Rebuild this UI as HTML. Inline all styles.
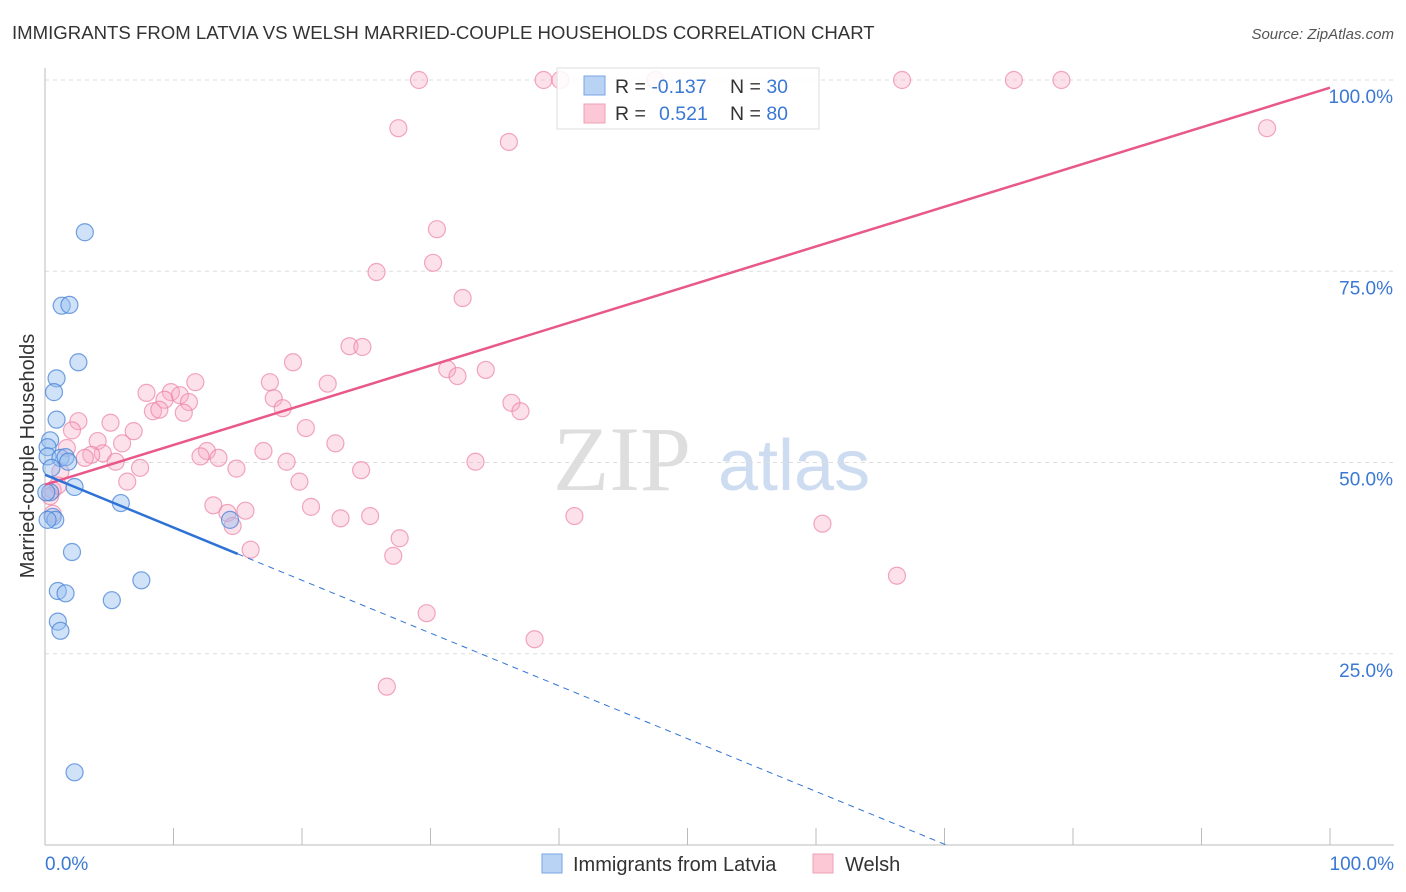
<!DOCTYPE html>
<html><head><meta charset="utf-8"><style>
body{margin:0;background:#fff;font-family:"Liberation Sans",sans-serif;}
</style></head><body>
<svg id="chart" width="1406" height="892" xmlns="http://www.w3.org/2000/svg" style="display:block">
<text x="12" y="39" font-size="18.6" fill="#333">IMMIGRANTS FROM LATVIA VS WELSH MARRIED-COUPLE HOUSEHOLDS CORRELATION CHART</text>
<text x="1394" y="39" font-size="15" fill="#555" font-style="italic" text-anchor="end">Source: ZipAtlas.com</text>
<g>
<text x="553" y="490" font-size="92" fill="#dedede" font-family="Liberation Serif,serif">ZIP</text>
<text x="718" y="490" font-size="72" fill="#cddcf0">atlas</text>
</g>
<g id="grid"></g>
<g id="axes"></g>
<g id="pts"></g>
<g id="lines"></g>
<text transform="translate(34,456) rotate(-90)" font-size="20" fill="#333" text-anchor="middle">Married-couple Households</text>
<text x="45" y="870" font-size="19" fill="#3a78d4">0.0%</text>
<text x="1394" y="870" font-size="19" fill="#3a78d4" text-anchor="end">100.0%</text>
<g>
<rect x="557" y="68" width="262" height="61" fill="rgba(255,255,255,0.85)" stroke="#ddd"/>
<rect x="584" y="76" width="21" height="19" fill="#b9d3f5" stroke="#7aa6e4"/>
<rect x="584" y="104" width="21" height="19" fill="#fcc8d6" stroke="#eea0b6"/>
<text x="615" y="93" font-size="19.5" fill="#333">R = <tspan fill="#3a78d4">-0.137</tspan><tspan x="730">N = </tspan><tspan fill="#3a78d4">30</tspan></text>
<text x="615" y="120" font-size="19.5" fill="#333">R = <tspan x="659" fill="#3a78d4">0.521</tspan><tspan x="730">N = </tspan><tspan fill="#3a78d4">80</tspan></text>
</g>
<g>
<rect x="542" y="854" width="20" height="19" fill="#b9d3f5" stroke="#7aa6e4"/>
<text x="573" y="871" font-size="20" fill="#333">Immigrants from Latvia</text>
<rect x="813" y="854" width="20" height="19" fill="#fcc8d6" stroke="#eea0b6"/>
<text x="845" y="871" font-size="20" fill="#333">Welsh</text>
</g>
</svg>
<script>
const yTicks=[25,50,75,100];
const yTickLabels=["25.0%","50.0%","75.0%","100.0%"];
const xTicks=[0,10,20,30,40,50,60,70,80,90,100];
const latviaX=[3.1,1.3,1.9,2.6,0.9,0.7,0.9,0.4,0.2,0.2,1.2,1.6,1.8,0.5,2.3,0.4,0.6,0.8,0.2,5.9,14.4,2.1,1.0,1.6,7.5,5.2,1.0,1.2,2.3,0.1];
const latviaY=[80.1,70.5,70.6,63.1,61.0,59.2,55.6,52.9,52.0,50.8,50.6,50.7,50.1,49.3,46.8,46.1,42.9,42.5,42.5,44.7,42.5,38.3,33.2,32.9,34.6,32.0,29.2,28.0,9.5,46.1];
const welshX=[29.1,38.8,40.1,47.5,66.7,75.4,79.1,95.1,27.5,36.1,30.5,30.2,25.8,32.5,23.7,24.7,19.3,31.3,34.3,32.1,11.7,17.5,22.0,7.9,9.8,10.5,9.3,11.2,17.8,36.3,18.5,8.4,8.9,10.8,37.0,2.6,5.1,20.3,2.1,6.9,4.1,6.0,22.6,1.7,12.6,17.0,4.5,3.6,3.1,12.1,13.5,5.5,18.8,33.5,7.4,14.9,24.6,1.2,6.4,19.8,0.6,0.4,13.1,20.7,15.6,23.0,25.3,14.2,14.6,41.2,60.5,27.6,16.0,27.1,66.3,29.7,38.1,26.6,0.6,1.0];
const welshY=[100,100,100,100,100,100,100,93.7,93.7,91.9,80.5,76.1,74.9,71.5,65.2,65.1,63.1,62.2,62.1,61.3,60.5,60.5,60.3,59.1,59.2,58.8,58.2,57.9,58.4,57.8,57.1,56.7,56.9,56.5,56.7,55.4,55.2,54.5,54.2,54.1,52.8,52.5,52.5,51.9,51.5,51.5,51.2,51.0,50.6,50.8,50.6,50.1,50.1,50.1,49.3,49.2,49.0,48.8,47.5,47.5,46.4,45.6,44.4,44.2,43.7,42.7,43.0,43.4,41.7,43.0,42.0,40.1,38.6,37.8,35.2,30.3,26.9,20.7,43.3,47.0];
const welshFit=[47.1,99.0];
const latviaFit=[48.4,-0.69];
const latviaSolidEnd=[15.0];
const NS="http://www.w3.org/2000/svg";
const X=v=>45+v*12.85, Y=v=>845-v*7.65;
function mk(t,a,p){const e=document.createElementNS(NS,t);for(const k in a)e.setAttribute(k,a[k]);p.appendChild(e);return e;}
const grid=document.getElementById('grid'),axes=document.getElementById('axes'),pts=document.getElementById('pts'),lines=document.getElementById('lines');
yTicks.forEach((t,i)=>{
  const l=mk('line',{x1:45,x2:1394,y1:Y(t),y2:Y(t),stroke:'#ddd','stroke-dasharray':'4,4'},grid);
  
  
  const tx=mk('text',{x:1393,y:Y(t)+23,'font-size':19,fill:'#3a78d4','text-anchor':'end'},axes);
  tx.textContent=yTickLabels[i];
  
  
});
const ax=mk('line',{x1:45,x2:45,y1:68,y2:845,stroke:'#bbb'},axes);


const bx=mk('line',{x1:45,x2:1394,y1:845,y2:845,stroke:'#bbb'},axes);


xTicks.forEach(t=>{
  const l=mk('line',{x1:X(t),x2:X(t),y1:828,y2:845,stroke:'#bbb'},axes);
  
  
});
welshX.forEach((v,i)=>{
  const c=mk('circle',{cx:X(v),cy:Y(welshY[i]),r:8.5,fill:'rgba(248,170,195,0.35)',stroke:'rgba(235,130,165,0.7)','stroke-width':1.2},pts);
  
  
});
latviaX.forEach((v,i)=>{
  const c=mk('circle',{cx:X(v),cy:Y(latviaY[i]),r:8.5,fill:'rgba(150,190,240,0.45)',stroke:'rgba(70,130,215,0.75)','stroke-width':1.2},pts);
  
  
});
const wl=mk('line',{x1:X(0),y1:Y(welshFit[0]),x2:X(100),y2:Y(welshFit[1]),stroke:'#e8588a','stroke-width':2.5},lines);


const lf=x=>latviaFit[0]+latviaFit[1]*x;
const zeroX=-latviaFit[0]/latviaFit[1];
const ls=mk('line',{x1:X(0),y1:Y(lf(0)),x2:X(latviaSolidEnd[0]),y2:Y(lf(latviaSolidEnd[0])),stroke:'#2f72d6','stroke-width':2.5},lines);


const ld=mk('line',{x1:X(latviaSolidEnd[0]),y1:Y(lf(latviaSolidEnd[0])),x2:X(zeroX),y2:Y(0),stroke:'#2f72d6','stroke-width':1,'stroke-dasharray':'6,5'},lines);


</script>
</body></html>
